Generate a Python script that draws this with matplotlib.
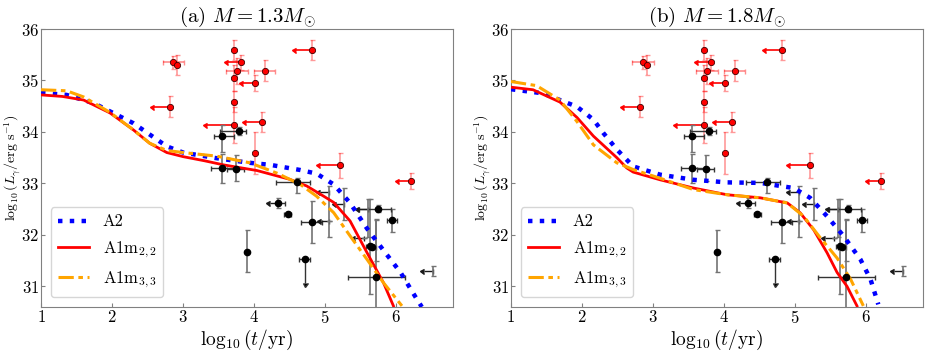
import numpy as np
import matplotlib
matplotlib.use("Agg")
import matplotlib.pyplot as plt

plt.rcParams['font.family'] = 'serif'
plt.rcParams['font.serif'] = ['cmr10']
plt.rcParams['mathtext.fontset'] = 'cm'
plt.rcParams['axes.unicode_minus'] = False
plt.rcParams['axes.formatter.use_mathtext'] = True

# ---------------- model curves ----------------
# panel (a) M = 1.3 Msun
a2_x_a = [1.0, 1.36, 1.74, 1.97, 2.3, 2.53, 2.77, 3.0, 3.47, 3.94, 4.23, 4.65, 4.88, 5.12, 5.35, 5.59, 5.82, 6.06, 6.29, 6.36]
a2_y_a = [34.76, 34.72, 34.56, 34.40, 34.17, 33.95, 33.72, 33.60, 33.49, 33.40, 33.36, 33.26, 33.19, 32.98, 32.62, 32.12, 31.70, 31.27, 30.75, 30.6]
m22_x_a = [1.0, 1.3, 1.6, 1.97, 2.3, 2.53, 2.77, 3.0, 3.3, 3.57, 4.04, 4.5, 4.74, 4.98, 5.12, 5.35, 5.59, 5.82, 5.96]
m22_y_a = [34.72, 34.69, 34.62, 34.37, 34.04, 33.78, 33.60, 33.52, 33.44, 33.36, 33.25, 33.08, 32.95, 32.75, 32.63, 32.27, 31.65, 31.07, 30.62]
m33_x_a = [1.0, 1.36, 1.6, 1.97, 2.3, 2.53, 2.77, 3.0, 3.47, 3.94, 4.32, 4.65, 4.88, 5.12, 5.35, 5.59, 5.82, 6.08]
m33_y_a = [34.82, 34.80, 34.68, 34.38, 34.04, 33.78, 33.64, 33.60, 33.53, 33.40, 33.20, 32.98, 32.75, 32.43, 31.98, 31.52, 31.07, 30.62]

# panel (b) M = 1.8 Msun
a2_x_b = [1.0, 1.45, 1.69, 1.93, 2.16, 2.3, 2.49, 2.72, 3.1, 3.57, 4.04, 4.51, 4.98, 5.21, 5.45, 5.68, 5.92, 6.06, 6.17]
a2_y_b = [34.83, 34.75, 34.62, 34.49, 34.24, 33.98, 33.66, 33.33, 33.17, 33.07, 33.02, 33.01, 32.91, 32.72, 32.36, 31.98, 31.52, 31.14, 30.65]
m22_x_b = [1.0, 1.31, 1.69, 1.93, 2.16, 2.49, 2.63, 2.72, 3.1, 3.57, 4.04, 4.51, 4.89, 5.07, 5.26, 5.45, 5.59, 5.73, 5.87]
m22_y_b = [34.87, 34.82, 34.58, 34.28, 33.92, 33.50, 33.30, 33.22, 33.07, 32.91, 32.78, 32.72, 32.62, 32.43, 32.10, 31.65, 31.27, 31.00, 30.62]
m33_x_b = [1.0, 1.36, 1.69, 1.93, 2.16, 2.49, 2.72, 3.1, 3.57, 4.04, 4.51, 4.89, 5.12, 5.35, 5.59, 5.78, 5.96]
m33_y_b = [34.98, 34.90, 34.62, 34.20, 33.75, 33.40, 33.27, 33.10, 32.88, 32.78, 32.72, 32.62, 32.36, 31.95, 31.55, 31.14, 30.62]

# ---------------- observational points ----------------
# red points (with markers)
red_x = [4.81, 3.71, 2.86, 2.91, 3.81, 3.76, 4.15, 3.71, 4.01, 2.81, 3.71, 3.71, 4.11, 4.01, 5.21, 6.21]
red_y = [35.59, 35.59, 35.35, 35.30, 35.35, 35.19, 35.19, 35.05, 34.95, 34.49, 34.59, 34.14, 34.19, 33.59, 33.35, 33.05]
red_xerr = [0.22, 0.0, 0.15, 0.0, 0.18, 0.15, 0.15, 0.0, 0.17, 0.22, 0.0, 0.38, 0.22, 0.0, 0.28, 0.17]
red_xup = [True, False, False, False, True, False, False, False, True, True, False, True, True, False, True, True]
red_yerr = [0.2, 0.2, 0.13, 0.2, 0.14, 0.25, 0.2, 0.25, 0.15, 0.2, 0.2, 0.35, 0.2, 0.4, 0.25, 0.15]

# black points (with markers)
blk_x = [3.55, 3.79, 3.55, 3.74, 4.60, 4.34, 4.47, 4.81, 3.90, 5.75, 5.94, 5.63, 5.66, 5.72]
blk_y = [33.92, 34.02, 33.29, 33.28, 33.03, 32.62, 32.41, 32.25, 31.67, 32.51, 32.28, 31.79, 31.76, 31.18]
blk_xlo = [0.11, 0.27, 0.16, 0.12, 0.29, 0.0, 0.055, 0.15, 0.0, 0.28, 0.065, 0.05, 0.05, 0.4]
blk_xhi = [0.16, 0.10, 0.16, 0.12, 0.18, 0.10, 0.055, 0.14, 0.0, 0.18, 0.065, 0.05, 0.05, 0.4]
blk_ylo = [0.30, 0.08, 0.28, 0.24, 0.22, 0.09, 0.0, 0.40, 0.40, 0.07, 0.22, 0.94, 0.0, 1.1]
blk_yhi = [0.22, 0.08, 0.28, 0.28, 0.08, 0.09, 0.0, 0.40, 0.43, 0.07, 0.22, 0.91, 0.0, 1.1]

# black point with a luminosity upper limit
bup_x = [4.71]
bup_y = [31.54]
bup_xerr = [0.08]
bup_yerr = [0.48]

# black age upper limits (no marker)
blim_x = [5.06, 5.06, 5.27, 5.60, 5.54, 6.52, 4.34, 5.72]
blim_y = [32.83, 32.27, 32.60, 32.50, 31.94, 31.30, 32.62, 32.30]
blim_xerr = [0.13, 0.12, 0.12, 0.12, 0.12, 0.13, 0.12, 0.0]
blim_ylo = [0.88, 0.0, 0.32, 0.55, 0.0, 0.10, 0.0, 0.80]
blim_yhi = [0.11, 0.0, 0.31, 0.19, 0.0, 0.10, 0.0, 0.0]

titles = [r"(a) $M = 1.3M_{\odot}$", r"(b) $M = 1.8M_{\odot}$"]
curves = [
    ((a2_x_a, a2_y_a), (m22_x_a, m22_y_a), (m33_x_a, m33_y_a)),
    ((a2_x_b, a2_y_b), (m22_x_b, m22_y_b), (m33_x_b, m33_y_b)),
]
labels = ["A2", r"A1m$_{2,2}$", r"A1m$_{3,3}$"]

fig = plt.figure(figsize=(9.26, 3.54), dpi=100)
axes = [fig.add_axes([0.0443, 0.133, 0.445, 0.785]),
        fig.add_axes([0.5518, 0.133, 0.445, 0.785])]

CAP = 1.8

def draw_data(ax):
    rx = np.array(red_x); ry = np.array(red_y)
    rxe = np.array(red_xerr); rup = np.array(red_xup)
    rye = np.array(red_yerr)
    ax.errorbar(rx, ry, yerr=rye, fmt='none', ecolor='red', color='red', alpha=0.4,
                elinewidth=1.2, capsize=CAP, zorder=4)
    m = (~rup) & (rxe > 0)
    ax.errorbar(rx[m], ry[m], xerr=rxe[m], fmt='none', ecolor='red', color='red', alpha=0.45,
                elinewidth=1.2, capsize=CAP, zorder=4)
    ax.errorbar(rx[rup], ry[rup], xerr=rxe[rup], xuplims=True, fmt='none',
                ecolor='red', color='red', elinewidth=1.2, capsize=CAP, zorder=4)
    ax.plot(rx, ry, 'o', color='red', mec='#400000', mew=0.6, ms=4.5, zorder=6, ls='none')

    bx = np.array(blk_x); by = np.array(blk_y)
    ax.errorbar(bx, by, yerr=[blk_ylo, blk_yhi], fmt='none', ecolor='0.45', color='0.45',
                elinewidth=1.2, capsize=CAP, zorder=4)
    ax.errorbar(bx, by, xerr=[blk_xlo, blk_xhi], fmt='none', ecolor='0.2', color='0.2',
                elinewidth=1.0, capsize=CAP, zorder=4)
    ax.plot(bx, by, 'o', color='black', ms=4.5, zorder=6, ls='none')

    ax.errorbar(bup_x, bup_y, xerr=bup_xerr, yerr=bup_yerr, uplims=True, fmt='o',
                color='black', ecolor='0.2', ms=4.5, elinewidth=1.0, capsize=CAP, zorder=6)

    lx = np.array(blim_x); ly = np.array(blim_y); lxe = np.array(blim_xerr)
    mm = lxe > 0
    ax.errorbar(lx[mm], ly[mm], xerr=lxe[mm], xuplims=True, fmt='none', ecolor='0.1',
                color='0.1', elinewidth=1.0, capsize=CAP, zorder=4)
    ax.errorbar(lx, ly, yerr=[blim_ylo, blim_yhi], fmt='none', ecolor='0.45', color='0.45',
                elinewidth=1.2, capsize=CAP, zorder=4)

for ax, title, cset in zip(axes, titles, curves):
    (ax2x, ax2y), (m2x, m2y), (m3x, m3y) = cset
    draw_data(ax)
    ax.plot(ax2x, ax2y, ls=':', color='blue', lw=3.2, label=labels[0], zorder=5)
    ax.plot(m2x, m2y, ls='-', color='red', lw=2.0, label=labels[1], zorder=5)
    ax.plot(m3x, m3y, ls=(0, (5, 1.5, 1.5, 1.5)), color='orange', lw=2.2, label=labels[2], zorder=5)
    ax.set_xlim(1, 6.8)
    ax.set_ylim(30.6, 36)
    ax.set_xticks([1, 2, 3, 4, 5, 6])
    ax.set_yticks([31, 32, 33, 34, 35, 36])
    ax.tick_params(labelsize=12, direction='in', color='0.5', length=3, pad=1.5)
    for s in ax.spines.values():
        s.set_color('0.5')
    ax.set_title(title, fontsize=15, pad=4)
    ax.set_xlabel(r"$\log_{10}(t/{\rm yr})$", fontsize=14, labelpad=1)
    ax.set_ylabel(r"$\log_{10}(L_{\gamma}/{\rm erg\ s^{-1}})$", fontsize=10)
    ax.yaxis.set_label_coords(-0.047, 0.5)
    ax.legend(loc='lower left', fontsize=12, handlelength=1.9, handletextpad=0.8,
              framealpha=0.8, borderaxespad=0.6, labelspacing=0.6)

fig.savefig("out.png", dpi=100)
